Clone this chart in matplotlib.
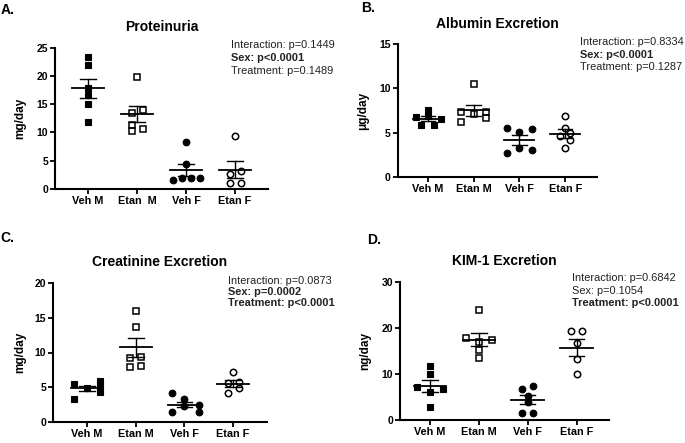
import numpy as np
import matplotlib
matplotlib.use("Agg")
import matplotlib.pyplot as plt

plt.rcParams['font.family'] = ['Liberation Sans', 'DejaVu Sans']

# 数据：从原图读取
groups_a = ["Veh M", "Etan  M", "Veh F", "Etan F"]
groups = ["Veh M", "Etan M", "Veh F", "Etan F"]

# A. Proteinuria (mg/day)
prot_veh_m = [23.4, 21.9, 17.9, 16.6, 15.0, 11.9]
prot_etan_m = [19.75, 14.0, 13.4, 11.3, 10.7, 10.25]
prot_veh_f = [8.3, 4.4, 1.6, 1.9, 1.9, 1.9]
prot_etan_f = [9.4, 3.2, 2.65, 1.0, 1.0]

# B. Albumin excretion (ug/day)
alb_veh_m = [7.6, 6.75, 6.9, 6.55, 5.85, 5.85]
alb_etan_m = [10.5, 7.35, 7.1, 7.35, 6.6, 6.15]
alb_veh_f = [5.5, 5.1, 5.35, 2.7, 3.2, 3.0]
alb_etan_f = [6.85, 5.55, 4.6, 4.9, 4.15, 3.3]

# C. Creatinine excretion (mg/day)
crea_veh_m = [5.5, 3.4, 4.9, 5.9, 5.1, 4.3]
crea_etan_m = [16.0, 13.7, 9.2, 9.4, 7.9, 8.1]
crea_veh_f = [4.15, 1.5, 3.3, 2.35, 2.5, 1.5]
crea_etan_f = [7.25, 5.6, 5.8, 4.25, 4.85]

# D. KIM-1 excretion (ng/day)
kim_veh_m = [11.85, 10.0, 7.15, 6.8, 6.2, 2.8]
kim_etan_m = [23.9, 17.9, 17.4, 17.05, 15.25, 13.6]
kim_veh_f = [6.8, 7.5, 5.3, 4.05, 1.65, 1.65]
kim_etan_f = [19.4, 19.4, 16.8, 13.2, 10.0]

# 统计文字 (文字, 是否加粗)
stats_a = [("Interaction: p=0.1449", False), ("Sex: p<0.0001", True), ("Treatment: p=0.1489", False)]
stats_b = [("Interaction: p=0.8334", False), ("Sex: p<0.0001", True), ("Treatment: p=0.1287", False)]
stats_c = [("Interaction: p=0.0873", False), ("Sex: p=0.0002", True), ("Treatment: p<0.0001", True)]
stats_d = [("Interaction: p=0.6842", False), ("Sex: p=0.1054", False), ("Treatment: p<0.0001", True)]

# 散点的水平偏移（避免重叠）
off_a = [[0, 0, 0, 0, 0, 0], [0, 0.12, -0.11, -0.11, 0.12, -0.11],
         [0, 0, -0.27, -0.09, 0.10, 0.29], [0, 0.12, -0.11, -0.11, 0.12]]
off_b = [[0, -0.27, 0, 0.28, -0.14, 0.13], [0, -0.28, 0, 0.28, 0.28, -0.28],
         [-0.28, 0, 0.28, -0.28, 0, 0.28], [0, 0, -0.12, 0.11, 0.11, 0]]
off_c = [[-0.26, -0.26, 0, 0.26, 0.26, 0.26], [0, 0, -0.11, 0.11, -0.11, 0.11],
         [-0.26, -0.26, 0, 0, 0.29, 0.29], [0, -0.1, 0.12, -0.1, 0.12]]
off_d = [[0, 0, -0.26, 0.27, 0, 0], [0, -0.27, 0.27, 0, 0, 0],
         [-0.11, 0.11, 0, 0, -0.11, 0.11], [-0.12, 0.12, 0, 0, 0]]

W, H = 685, 443
fig = plt.figure(figsize=(W / 100, H / 100), dpi=100)


def px_axes(x0, y0, x1, y1):
    # 像素坐标 (左上角原点) -> figure 坐标
    return fig.add_axes([x0 / W, 1 - y1 / H, (x1 - x0) / W, (y1 - y0) / H])


def panel(ax, data, offs, labels, title, ylabel, ymax, ystep, xlim, ylab_x):
    markers = ["s", "s", "o", "o"]
    filled = [True, False, True, False]
    for i, vals in enumerate(data):
        vals = np.array(vals)
        x = i + np.array(offs[i])
        if filled[i]:
            ax.plot(x, vals, markers[i], ms=4.8, mfc="black", mec="black", mew=0.8, zorder=3)
        else:
            ax.plot(x, vals, markers[i], ms=4.6, mfc="none", mec="black", mew=1.1, zorder=3)
        m = vals.mean()
        sem = vals.std(ddof=1) / np.sqrt(len(vals))
        ax.plot([i - 0.33, i + 0.33], [m, m], color="black", lw=1.3, zorder=4)
        ax.plot([i, i], [m - sem, m + sem], color="black", lw=1.0, zorder=4)
        ax.plot([i - 0.16, i + 0.16], [m + sem, m + sem], color="black", lw=1.0, zorder=4)
        ax.plot([i - 0.16, i + 0.16], [m - sem, m - sem], color="black", lw=1.0, zorder=4)
    ax.set_xlim(*xlim)
    ax.set_ylim(0, ymax)
    ax.set_yticks(np.arange(0, ymax + 0.1, ystep))
    ax.set_xticks(range(4))
    ax.set_xticklabels(labels, fontweight="bold", fontsize=7.8)
    for t in ax.get_yticklabels():
        t.set_fontweight("bold")
        t.set_fontsize(7.5)
    ax.spines["top"].set_visible(False)
    ax.spines["right"].set_visible(False)
    ax.spines["left"].set_linewidth(1.5)
    ax.spines["bottom"].set_linewidth(1.5)
    ax.tick_params(width=1.3, length=3.5, pad=1.5)
    ax.set_title(title, fontweight="bold", fontsize=10, pad=12)
    ax.set_ylabel(ylabel, fontweight="bold", fontsize=8.5)
    ax.yaxis.set_label_coords(ylab_x, 0.5)
    ax.patch.set_alpha(0)


def stats(x, y0, dy, lines):
    for k, (s, b) in enumerate(lines):
        fig.text(x / W, 1 - (y0 + k * dy) / H, s, fontsize=7.9, color="#222222",
                 fontweight="bold" if b else "normal", va="center", ha="left")


ax_a = px_axes(55, 47.7, 268, 189)
panel(ax_a, [prot_veh_m, prot_etan_m, prot_veh_f, prot_etan_f], off_a, groups_a,
      "Proteinuria", "mg/day", 25, 5, (-0.67, 3.67), -0.133)
ax_b = px_axes(397.7, 44.3, 596.7, 176.7)
panel(ax_b, [alb_veh_m, alb_etan_m, alb_veh_f, alb_etan_f], off_b, groups,
      "Albumin Excretion", "μg/day", 15, 5, (-0.66, 3.69), -0.144)
ax_c = px_axes(53, 282.7, 266.7, 422.3)
panel(ax_c, [crea_veh_m, crea_etan_m, crea_veh_f, crea_etan_f], off_c, groups,
      "Creatinine Excretion", "mg/day", 20, 5, (-0.70, 3.69), -0.123)
ax_d = px_axes(400, 282, 609.3, 420.3)
panel(ax_d, [kim_veh_m, kim_etan_m, kim_veh_f, kim_etan_f], off_d, groups,
      "KIM-1 Excretion", "ng/day", 30, 10, (-0.61, 3.67), -0.135)

stats(231, 44.5, 13.3, stats_a)
stats(580, 42.3, 12.2, stats_b)
stats(227.7, 280.7, 11.0, stats_c)
stats(571.7, 278.3, 12.5, stats_d)

# 面板字母
for lab, x, y in [("A.", 1, 10), ("B.", 361, 8.5), ("C.", 0, 238), ("D.", 367, 240)]:
    fig.text(x / W, 1 - y / H, lab, fontsize=10, fontweight="bold", va="center", ha="left")

fig.savefig("out.png", dpi=100)
